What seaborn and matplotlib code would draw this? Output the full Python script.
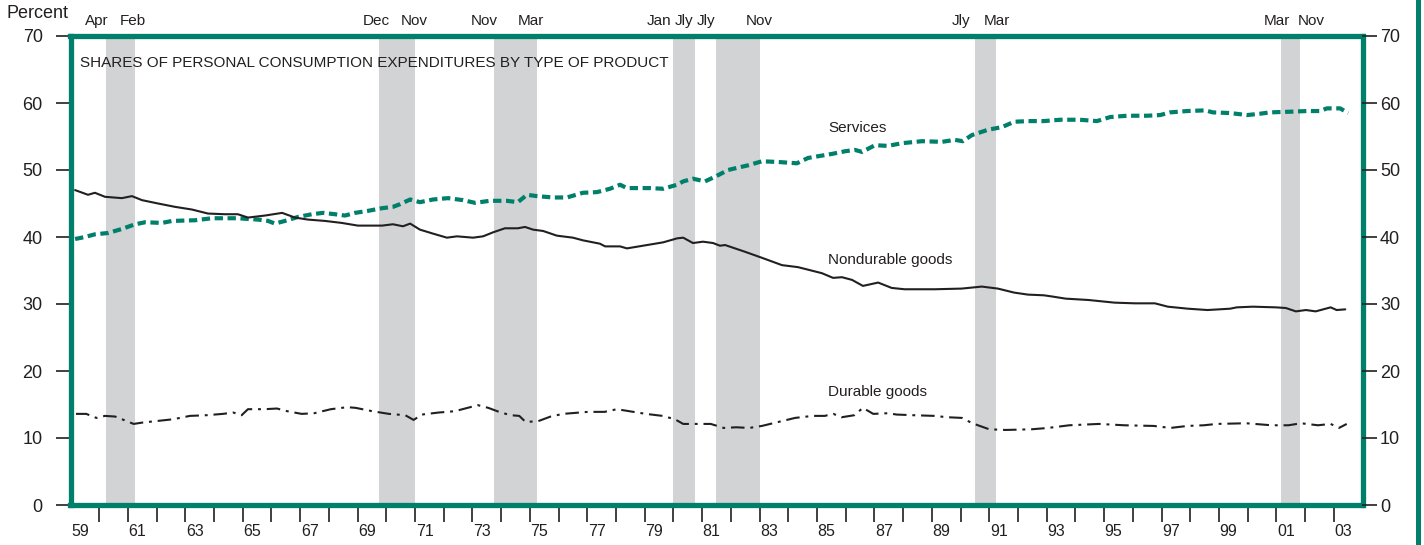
import numpy as np
import pandas as pd
import matplotlib
matplotlib.use("Agg")
import matplotlib.pyplot as plt
from matplotlib.lines import Line2D
from matplotlib.ticker import FixedLocator, NullFormatter, FixedFormatter
import seaborn as sns

# ---- data (year, percent) ----
services_t = [1959.16, 1959.5, 1959.85, 1960.31, 1960.79, 1961.25, 1961.6, 1962.19, 1962.54,
              1963.34, 1963.93, 1964.38, 1964.83, 1965.15, 1965.53, 1965.88, 1966.12, 1966.47,
              1966.93, 1967.41, 1967.79, 1968.21, 1968.56, 1968.91, 1969.36, 1969.85, 1970.23,
              1970.48, 1970.83, 1971.17, 1971.63, 1972.15, 1972.67, 1973.09, 1973.6, 1974.2,
              1974.58, 1974.9, 1975.25, 1975.81, 1976.29, 1976.85, 1977.34, 1977.79, 1978.14,
              1978.38, 1979.18, 1979.64, 1980.13, 1980.34, 1980.68, 1981.1, 1981.5, 1981.9,
              1982.6, 1983.08, 1983.64, 1984.3, 1984.69, 1985.52, 1985.98, 1986.32, 1986.57,
              1987.02, 1987.47, 1987.96, 1988.66, 1989.35, 1989.8, 1990.08, 1990.39, 1990.95,
              1991.44, 1991.87, 1992.35, 1992.9, 1993.47, 1994.16, 1994.75, 1995.21, 1995.8,
              1996.5, 1996.95, 1997.3, 1997.89, 1998.52, 1998.79, 1999.39, 1999.98, 2000.43,
              2000.78, 2001.48, 2002.07, 2002.52, 2002.76, 2003.22, 2003.5]
services_v = [39.7, 40.0, 40.4, 40.6, 41.2, 41.9, 42.2, 42.1, 42.4,
              42.5, 42.8, 42.8, 42.8, 42.7, 42.6, 42.4, 42.0, 42.4,
              43.0, 43.4, 43.6, 43.4, 43.2, 43.6, 43.9, 44.3, 44.5,
              44.9, 45.6, 45.2, 45.6, 45.8, 45.5, 45.1, 45.4, 45.4,
              45.2, 46.3, 46.1, 45.9, 45.9, 46.6, 46.7, 47.2, 47.8,
              47.3, 47.3, 47.2, 47.8, 48.3, 48.7, 48.3, 49.1, 50.0,
              50.7, 51.3, 51.2, 51.0, 51.8, 52.4, 52.8, 53.0, 52.7,
              53.7, 53.6, 54.0, 54.3, 54.2, 54.5, 54.3, 55.2, 56.0,
              56.4, 57.2, 57.3, 57.3, 57.5, 57.5, 57.3, 57.9, 58.1,
              58.1, 58.2, 58.6, 58.8, 58.9, 58.6, 58.5, 58.2, 58.4,
              58.6, 58.7, 58.8, 58.8, 59.2, 59.2, 58.5]

nondurable_t = [1959.16, 1959.61, 1959.85, 1960.2, 1960.79, 1961.14, 1961.49, 1962.05, 1962.64,
                1963.23, 1963.79, 1964.38, 1964.83, 1965.18, 1965.77, 1966.37, 1966.82, 1967.27,
                1967.86, 1968.45, 1969.01, 1969.85, 1970.23, 1970.58, 1970.83, 1971.17, 1971.63,
                1972.11, 1972.46, 1973.02, 1973.37, 1973.72, 1974.13, 1974.58, 1974.83, 1975.11,
                1975.46, 1975.94, 1976.5, 1976.85, 1977.44, 1977.62, 1978.14, 1978.38, 1978.94,
                1979.64, 1980.13, 1980.34, 1980.68, 1981.03, 1981.38, 1981.62, 1981.8, 1982.49,
                1983.08, 1983.78, 1984.34, 1985.17, 1985.56, 1985.87, 1986.22, 1986.6, 1987.13,
                1987.6, 1988.05, 1989.1, 1990.04, 1990.74, 1991.3, 1991.87, 1992.35, 1992.9,
                1993.22, 1993.66, 1994.45, 1995.37, 1996.07, 1996.77, 1997.22, 1997.92, 1998.6,
                1999.39, 1999.62, 2000.18, 2000.98, 2001.33, 2001.68, 2002.03, 2002.37, 2002.89,
                2003.1, 2003.4]
nondurable_v = [47.0, 46.3, 46.6, 46.0, 45.8, 46.1, 45.5, 45.0, 44.5,
                44.1, 43.5, 43.4, 43.4, 42.9, 43.2, 43.6, 42.9, 42.6,
                42.4, 42.1, 41.7, 41.7, 41.9, 41.6, 42.0, 41.1, 40.5,
                39.9, 40.1, 39.9, 40.1, 40.7, 41.3, 41.3, 41.5, 41.1,
                40.9, 40.2, 39.9, 39.5, 39.0, 38.6, 38.6, 38.3, 38.7,
                39.2, 39.8, 39.9, 39.1, 39.3, 39.1, 38.7, 38.8, 37.8,
                36.9, 35.8, 35.5, 34.6, 33.9, 34.0, 33.6, 32.7, 33.2,
                32.4, 32.2, 32.2, 32.3, 32.6, 32.3, 31.7, 31.4, 31.3,
                31.1, 30.8, 30.6, 30.2, 30.1, 30.1, 29.6, 29.3, 29.1,
                29.3, 29.5, 29.6, 29.5, 29.4, 28.9, 29.1, 28.9, 29.5,
                29.1, 29.2]

durable_t = [1959.19, 1959.55, 1959.9, 1960.2, 1960.56, 1960.85, 1961.2, 1961.5, 1961.93,
             1962.58, 1963.16, 1963.73, 1964.31, 1964.67, 1964.96, 1965.18, 1965.76, 1966.19,
             1966.55, 1967.05, 1967.49, 1968.07, 1968.64, 1968.93, 1969.51, 1970.09, 1970.66,
             1970.95, 1971.24, 1971.82, 1972.39, 1972.83, 1973.19, 1973.55, 1973.99, 1974.34,
             1974.63, 1974.85, 1975.28, 1975.72, 1976.15, 1977.02, 1977.6, 1978.03, 1978.46,
             1979.04, 1979.62, 1980.05, 1980.34, 1980.91, 1981.3, 1981.75, 1982.19, 1982.64,
             1983.08, 1983.66, 1984.24, 1984.84, 1985.27, 1985.57, 1985.86, 1986.3, 1986.6,
             1986.96, 1987.48, 1987.77, 1988.36, 1989.1, 1989.53, 1990.05, 1990.41, 1991.0,
             1991.58, 1992.47, 1993.05, 1993.79, 1994.82, 1995.7, 1996.73, 1997.31, 1997.9,
             1998.48, 1998.92, 1999.95, 2000.83, 2001.42, 2001.86, 2002.45, 2002.89, 2003.18,
             2003.45]
durable_v = [13.6, 13.6, 13.0, 13.3, 13.2, 12.7, 12.1, 12.3, 12.5,
             12.8, 13.3, 13.4, 13.6, 13.8, 13.4, 14.3, 14.3, 14.4,
             14.0, 13.6, 13.7, 14.3, 14.6, 14.5, 14.0, 13.6, 13.4,
             12.7, 13.5, 13.8, 14.0, 14.5, 14.9, 14.5, 13.8, 13.4,
             13.3, 12.4, 12.5, 13.2, 13.6, 13.9, 13.9, 14.3, 14.0,
             13.6, 13.3, 12.8, 12.1, 12.1, 12.1, 11.5, 11.6, 11.5,
             11.8, 12.4, 13.0, 13.3, 13.3, 13.6, 13.1, 13.4, 14.5,
             13.6, 13.7, 13.5, 13.4, 13.3, 13.1, 13.0, 12.2, 11.3,
             11.2, 11.3, 11.5, 11.9, 12.1, 11.9, 11.8, 11.5, 11.8,
             11.9, 12.1, 12.2, 11.9, 11.9, 12.2, 11.9, 12.1, 11.5,
             12.1]

# recessions (start, end in years) with peak / trough month labels
rec_start = [1960.25, 1969.75, 1973.75, 1980.0, 1981.5, 1990.5, 2001.17]
rec_end = [1961.25, 1971.0, 1975.25, 1980.75, 1983.0, 1991.25, 2001.83]
rec_peak = ["Apr", "Dec", "Nov", "Jan", "Jly", "Jly", "Mar"]
rec_trough = ["Feb", "Nov", "Mar", "Jly", "Nov", "Mar", "Nov"]

year_ticks = list(range(1960, 2004))
year_labels = ["%02d" % (y % 100) for y in range(1959, 2004, 2)]
y_ticks = [0, 10, 20, 30, 40, 50, 60, 70]

# label nudges (years) so the month names sit as in the original
peak_nudge = [-0.33, -0.11, -0.35, -0.5, -0.36, -0.48, -0.15]
trough_nudge = [-0.07, -0.03, -0.21, -0.38, -0.02, 0.02, 0.37]

GREEN = "#00806A"
INK = "#231F20"
SHADE = "#D1D3D4"

sns.set_style("white")
plt.rcParams["font.family"] = ["Liberation Sans", "DejaVu Sans"]

fig = plt.figure(figsize=(14.24, 5.45), dpi=100)
ax = fig.add_axes([70.5 / 1424, 40 / 545, 1292 / 1424, 469 / 545])

for s, e in zip(rec_start, rec_end):
    ax.axvspan(s, e, color=SHADE, lw=0, zorder=0)

df_s = pd.DataFrame({"year": services_t, "pct": services_v})
df_n = pd.DataFrame({"year": nondurable_t, "pct": nondurable_v})
df_d = pd.DataFrame({"year": durable_t, "pct": durable_v})

sns.lineplot(data=df_s, x="year", y="pct", ax=ax, color=GREEN, lw=3.0,
             linestyle=(0, (2.0, 1.1)), solid_capstyle="butt", dash_capstyle="butt")
sns.lineplot(data=df_n, x="year", y="pct", ax=ax, color=INK, lw=1.5)
sns.lineplot(data=df_d, x="year", y="pct", ax=ax, color=INK, lw=1.5,
             linestyle=(0, (6.5, 2.8, 1.4, 2.8)))

ax.set_xlim(1959, 2004)
ax.set_ylim(0, 70)
ax.set_xlabel("")
ax.set_ylabel("")

for sp in ax.spines.values():
    sp.set_color(GREEN)
    sp.set_linewidth(3.8)
    sp.set_zorder(5)

# x axis: ticks at year boundaries, labels mid-year for odd years
ax.xaxis.set_major_locator(FixedLocator(year_ticks))
ax.xaxis.set_major_formatter(NullFormatter())
ax.xaxis.set_minor_locator(FixedLocator([y + 0.33 for y in range(1959, 2004, 2)]))
ax.xaxis.set_minor_formatter(FixedFormatter(year_labels))
ax.tick_params(axis="x", which="major", direction="out", length=12, width=1.2,
               color=INK, bottom=True)
ax.tick_params(axis="x", which="minor", length=0, pad=14, labelsize=11.5,
               labelcolor=INK, bottom=True)

ax.set_yticks(y_ticks)
ax.tick_params(axis="y", which="major", direction="out", length=11, width=1.2,
               color=INK, pad=9, labelsize=13, labelcolor=INK, left=True)

ax2 = ax.twinx()
ax2.set_ylim(0, 70)
ax2.set_yticks(y_ticks)
ax2.tick_params(axis="y", direction="out", length=10.5, width=1.2, color=INK,
                pad=2, labelsize=13, labelcolor=INK, right=True)
for sp in ax2.spines.values():
    sp.set_visible(False)

# recession month labels above the frame
trans = ax.get_xaxis_transform()
for s, e, p, t, dp, dt in zip(rec_start, rec_end, rec_peak, rec_trough, peak_nudge, trough_nudge):
    ax.text(s + dp, 1.032, p, transform=trans, ha="center", va="center",
            fontsize=11, color=INK, clip_on=False)
    ax.text(e + dt, 1.032, t, transform=trans, ha="center", va="center",
            fontsize=11, color=INK, clip_on=False)

ax.text(1959.33, 65.9, "SHARES OF PERSONAL CONSUMPTION EXPENDITURES BY TYPE OF PRODUCT",
        ha="left", va="center", fontsize=11, color=INK)
ax.text(1985.38, 56.2, "Services", ha="left", va="center", fontsize=11, color=INK)
ax.text(1985.4, 36.5, "Nondurable goods", ha="left", va="center", fontsize=11, color=INK)
ax.text(1985.38, 16.8, "Durable goods", ha="left", va="center", fontsize=11, color=INK)

fig.text(6 / 1424, 1 - 14 / 545, "Percent", ha="left", va="center", fontsize=13, color=INK)

# green rule along the right edge of the page
fig.add_artist(Line2D([1418 / 1424, 1418 / 1424], [0, 1], transform=fig.transFigure,
                      color=GREEN, lw=3.6))

fig.savefig("out.png", dpi=100)
